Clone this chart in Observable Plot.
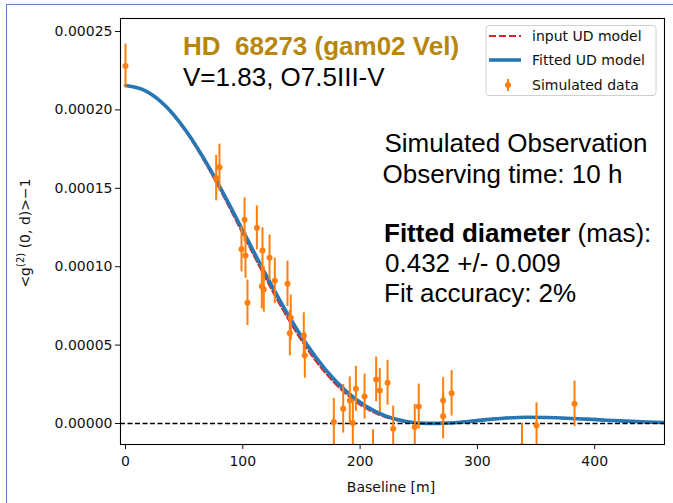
<!DOCTYPE html>
<html><head><meta charset="utf-8">
<script src="https://cdn.jsdelivr.net/npm/d3@7"></script>
<script src="https://cdn.jsdelivr.net/npm/@observablehq/plot@0.6"></script>
<style>
html,body{margin:0;padding:0;background:#fff;overflow:hidden;}
#wrap{position:relative;width:673px;height:503px;overflow:hidden;}
#border{position:absolute;left:6px;top:4px;width:720px;height:620px;border-left:1.5px solid #5a86c5;border-top:1.5px solid #5a86c5;pointer-events:none;}
</style></head><body><div id="wrap"><div id="chart"></div><div id="border"></div></div>
<script>
// Simulated data points: baseline [m], <g2>-1, error
const baseline = [0.0, 77.3, 80.1, 98.9, 101.5, 102.3, 104.0, 112.0, 116.2, 116.8, 117.9, 122.8, 127.3, 138.1, 140.1, 140.9, 152.0, 152.9,
  177.6, 185.6, 191.2, 193.8, 196.4, 203.8, 211.0, 213.7, 216.8, 223.4, 228.2, 246.6, 250.0, 270.8, 270.8, 278.0, 338.0, 350.4, 382.8];
const g2 = [2.28e-4, 1.565e-4, 1.635e-4, 1.112e-4, 1.299e-4, 1.071e-4, 7.70e-5, 1.248e-4, 8.76e-5, 1.103e-4, 8.55e-5, 1.057e-4, 9.10e-5, 8.91e-5, 5.76e-5, 6.74e-5, 5.61e-5, 4.34e-5,
  1.0e-6, 9.4e-6, 1.47e-5, 4e-7, 2.21e-5, 1.72e-5, -1.85e-5, 2.81e-5, 2.10e-5, 2.60e-5, -3.4e-6, -2.3e-6, 1.08e-5, 1.47e-5, 4.7e-6, 1.93e-5, -1.45e-5, -1.3e-6, 1.26e-5];
const g2err = [1.4e-5, 1.45e-5, 1.47e-5, 1.45e-5, 1.4e-5, 1.45e-5, 1.45e-5, 1.4e-5, 1.45e-5, 1.45e-5, 1.45e-5, 1.45e-5, 1.45e-5, 1.45e-5, 1.45e-5, 1.45e-5, 1.45e-5, 1.45e-5,
  1.5e-5, 1.55e-5, 1.5e-5, 1.5e-5, 1.43e-5, 1.43e-5, 1.45e-5, 1.43e-5, 1.4e-5, 1.43e-5, 1.45e-5, 1.45e-5, 1.43e-5, 1.45e-5, 1.45e-5, 1.45e-5, 1.45e-5, 1.45e-5, 1.45e-5];

// Fitted UD model
const fitB = [0, 17.1, 34.2, 51.3, 68.4, 85.5, 102.6, 119.7, 136.8, 153.8, 170.9, 188.0, 205.1, 222.2, 239.3, 256.4, 273.5, 290.6, 307.7, 324.8, 341.9, 359.0, 376.1, 393.2, 410.3, 427.4, 444.4, 461.5];
const fitV = [2.156e-4, 2.122e-4, 2.025e-4, 1.870e-4, 1.670e-4, 1.439e-4, 1.193e-4, 9.48e-5, 7.17e-5, 5.12e-5, 3.41e-5, 2.07e-5, 1.10e-5, 4.74e-6, 1.33e-6, 6.6e-8, 2.35e-7, 1.11e-6, 2.5e-6, 3.5e-6, 3.95e-6, 3.8e-6, 3.4e-6, 2.8e-6, 2.1e-6, 1.5e-6, 1.0e-6, 6e-7];

// Input UD model
const inputB = [0, 16.8, 33.7, 50.5, 67.4, 84.2, 101.1, 117.9, 134.7, 151.5, 168.3, 185.2, 202.0, 218.9, 235.7, 252.6, 269.4, 286.2, 303.1, 319.9, 336.8, 353.6, 370.5, 387.3, 404.1, 421.0, 437.7, 454.6, 471.6];
const inputV = [2.156e-4, 2.122e-4, 2.025e-4, 1.870e-4, 1.670e-4, 1.439e-4, 1.193e-4, 9.48e-5, 7.17e-5, 5.12e-5, 3.41e-5, 2.07e-5, 1.10e-5, 4.74e-6, 1.33e-6, 6.6e-8, 2.35e-7, 1.11e-6, 2.5e-6, 3.5e-6, 3.95e-6, 3.8e-6, 3.4e-6, 2.8e-6, 2.1e-6, 1.5e-6, 1.0e-6, 6e-7, 3e-7];

const xTicks = [0, 100, 200, 300, 400];
const yTicks = [0, 0.00005, 0.0001, 0.00015, 0.0002, 0.00025];

const pts = baseline.map((b, i) => ({b, v: g2[i], lo: g2[i] - g2err[i], hi: g2[i] + g2err[i]}));
const fit = fitB.map((b, i) => ({b, v: fitV[i]}));
const inp = inputB.map((b, i) => ({b, v: inputV[i]}));

const W = 673, H = 503;
const ML = 120, MR = 9, MT = 18, MB = 59;

const chart = Plot.plot({
  width: W, height: H,
  marginLeft: ML, marginRight: MR, marginTop: MT, marginBottom: MB,
  style: {fontFamily: "DejaVu Sans", fontSize: "14px", color: "#111", background: "white"},
  x: {domain: [-4.26, 459.5]},
  y: {domain: [-1.339e-5, 2.583e-4]},
  marks: [
    Plot.line(inp, {x: "b", y: "v", stroke: "#d62728", strokeWidth: 2, strokeDasharray: "7,3", curve: "monotone-x", clip: true}),
    Plot.line(fit, {x: "b", y: "v", stroke: "#2678b5", strokeWidth: 3.6, curve: "monotone-x", clip: true}),
    Plot.ruleY([0], {stroke: "black", strokeWidth: 1.3, strokeDasharray: "5,2.5"}),
    Plot.ruleX(pts, {x: "b", y1: "lo", y2: "hi", stroke: "#ff7f0e", strokeWidth: 2, clip: true}),
    Plot.dot(pts, {x: "b", y: "v", r: 3, fill: "#ff7f0e", stroke: "none", clip: true}),
    Plot.frame({stroke: "black", strokeWidth: 1.1}),
    Plot.axisX({ticks: xTicks, tickSize: 5, tickPadding: 7, fontSize: 14, label: null}),
    Plot.axisY({ticks: yTicks, tickFormat: d3.format(".5f"), tickSize: 5, tickPadding: 3, fontSize: 14, label: null})
  ]
});
document.getElementById("chart").appendChild(chart);

const svg = d3.select(chart);
// axis labels
svg.append("text").attr("x", 391).attr("y", 492).attr("text-anchor", "middle")
  .attr("font-family", "DejaVu Sans").attr("font-size", 14).attr("fill", "#111").text("Baseline [m]");
const yl = svg.append("text").attr("transform", "translate(30,233) rotate(-90)").attr("text-anchor", "middle")
  .attr("font-family", "DejaVu Sans").attr("font-size", 14).attr("fill", "#111");
yl.append("tspan").text("<g");
yl.append("tspan").attr("font-size", 10).attr("dy", -6).text("(2)");
yl.append("tspan").attr("dy", 6).text(" (0, d)>\u22121");

// annotations
const ann = (x, y, parts, fill) => {
  const t = svg.append("text").attr("x", x).attr("y", y).attr("text-anchor", "start")
    .attr("font-family", "Liberation Sans").attr("font-size", 26).attr("fill", fill || "#000");
  parts.forEach(([s, w]) => t.append("tspan").attr("font-weight", w ? "bold" : "normal").text(s));
};
ann(183, 55, [["HD  68273 (gam02 Vel)", true]], "#b8860b");
ann(183, 86, [["V=1.83, O7.5III-V", false]]);
ann(384.5, 152, [["Simulated Observation", false]]);
ann(382.5, 183, [["Observing time: 10 h", false]]);
ann(384, 242, [["Fitted diameter", true], [" (mas):", false]]);
ann(385, 272, [["0.432 +/- 0.009", false]]);
ann(384, 302, [["Fit accuracy: 2%", false]]);

// legend
const lg = svg.append("g");
lg.append("rect").attr("x", 486).attr("y", 25.5).attr("width", 170).attr("height", 70).attr("rx", 3)
  .attr("fill", "white").attr("fill-opacity", 0.85).attr("stroke", "#d0d0d0").attr("stroke-width", 1);
const rows = [36, 60, 85];
lg.append("line").attr("x1", 489).attr("x2", 521).attr("y1", rows[0]).attr("y2", rows[0])
  .attr("stroke", "#d62728").attr("stroke-width", 2).attr("stroke-dasharray", "7,3");
lg.append("line").attr("x1", 489).attr("x2", 521).attr("y1", rows[1]).attr("y2", rows[1])
  .attr("stroke", "#2678b5").attr("stroke-width", 3.6);
lg.append("line").attr("x1", 508).attr("x2", 508).attr("y1", rows[2] - 6).attr("y2", rows[2] + 6)
  .attr("stroke", "#ff7f0e").attr("stroke-width", 2);
lg.append("circle").attr("cx", 508).attr("cy", rows[2]).attr("r", 3).attr("fill", "#ff7f0e");
const labels = ["input UD model", "Fitted UD model", "Simulated data"];
labels.forEach((s, i) => lg.append("text").attr("x", 532).attr("y", rows[i] + 5).attr("text-anchor", "start")
  .attr("font-family", "DejaVu Sans").attr("font-size", 14).attr("fill", "#111").text(s));
</script></body></html>
